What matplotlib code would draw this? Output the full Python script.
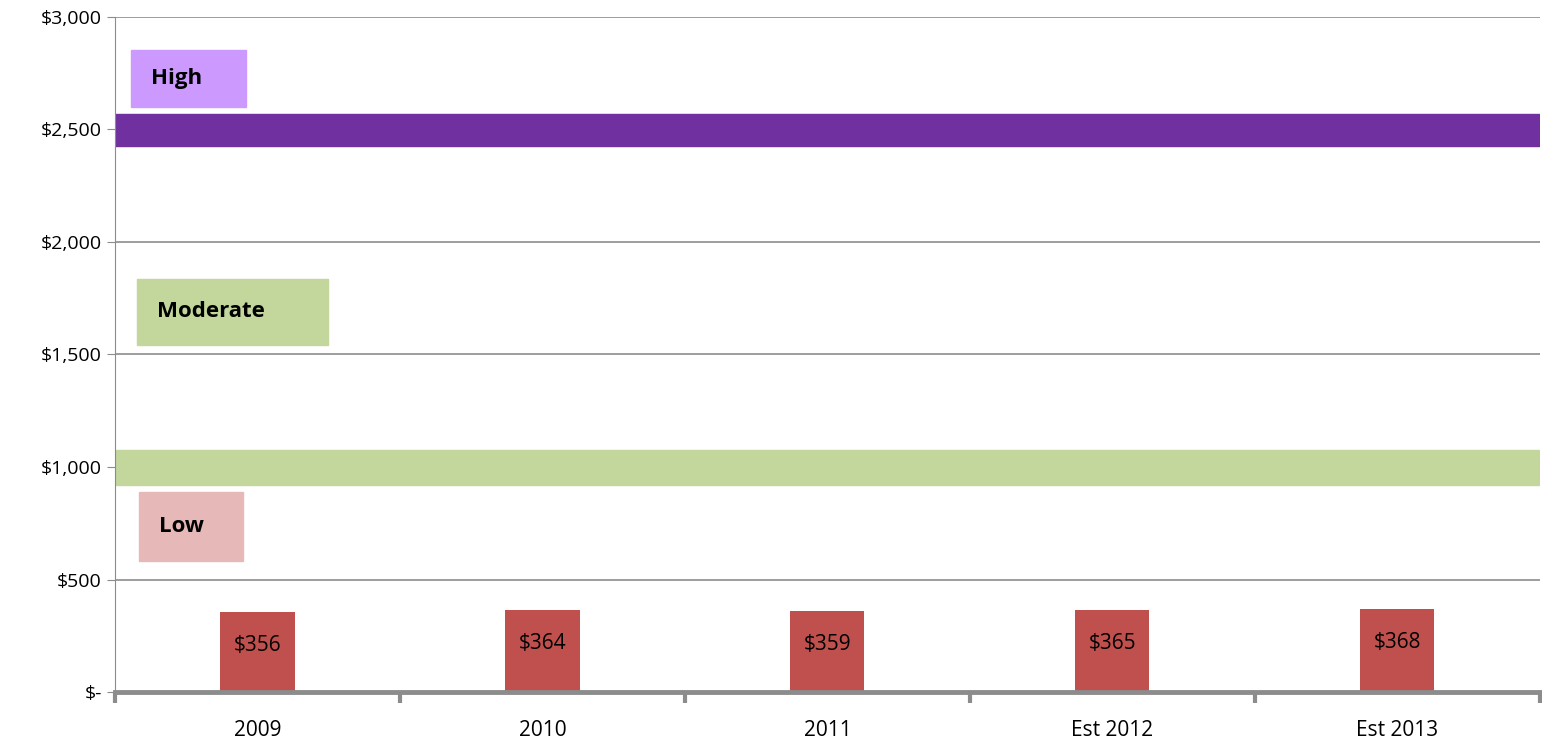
import matplotlib
matplotlib.use("Agg")
import matplotlib.pyplot as plt
from matplotlib.patches import Rectangle

categories = ["2009", "2010", "2011", "Est 2012", "Est 2013"]
values = [356, 364, 359, 365, 368]
labels = ["$356", "$364", "$359", "$365", "$368"]
yticks = [0, 500, 1000, 1500, 2000, 2500, 3000]
ytick_labels = ["$-", "$500", "$1,000", "$1,500", "$2,000", "$2,500", "$3,000"]
high_band = (2427, 2569)
mod_band = (920, 1076)

plt.rcParams['font.family'] = ['Open Sans', 'DejaVu Sans']
fig = plt.figure(figsize=(15.42, 7.41), dpi=100)
ax = fig.add_axes([0.0746, 0.0661, 0.924, 0.911])
ax.set_xlim(-0.5, 4.5)
ax.set_ylim(0, 3000)
ax.set_yticks(yticks)
ax.set_yticklabels(ytick_labels, fontsize=14)
ax.yaxis.grid(True, color='#8c8c8c', lw=1.2)
ax.set_axisbelow(True)
ax.set_xticks(range(5))
ax.set_xticklabels(categories, fontsize=15)
ax.tick_params(axis='x', length=0, pad=20)
ax.set_xticks([i - 0.5 for i in range(6)], minor=True)
ax.tick_params(axis='x', which='minor', length=8, width=3, color='#8c8c8c', direction='out')
ax.tick_params(axis='y', length=6, color='#8c8c8c')
for s in ['top', 'right']:
    ax.spines[s].set_visible(False)
ax.spines['left'].set_color('#8c8c8c')
ax.spines['bottom'].set_color('#8c8c8c')
ax.spines['bottom'].set_linewidth(3.5)

ax.axhspan(*high_band, color='#7030a0', zorder=1)
ax.axhspan(*mod_band, color='#c3d69b', zorder=1)

bars = ax.bar(range(5), values, width=0.26, color='#c0504d', zorder=2)
for i, (v, l) in enumerate(zip(values, labels)):
    ax.text(i, v - 150, l, ha='center', va='center', fontsize=15, zorder=3)

boxes = [("High", -0.445, 0.405, 2600, 2853, '#cc99ff'),
         ("Moderate", -0.424, 0.670, 1542, 1836, '#c3d69b'),
         ("Low", -0.417, 0.365, 582, 889, '#e6b9b8')]
for name, x0, w, y0, y1, c in boxes:
    ax.add_patch(Rectangle((x0, y0), w, y1 - y0, color=c, zorder=3))
    ax.text(x0 + 0.07, (y0 + y1) / 2, name, ha='left', va='center', fontsize=16,
            fontweight='bold', zorder=4)

fig.savefig("out.png", dpi=100)
